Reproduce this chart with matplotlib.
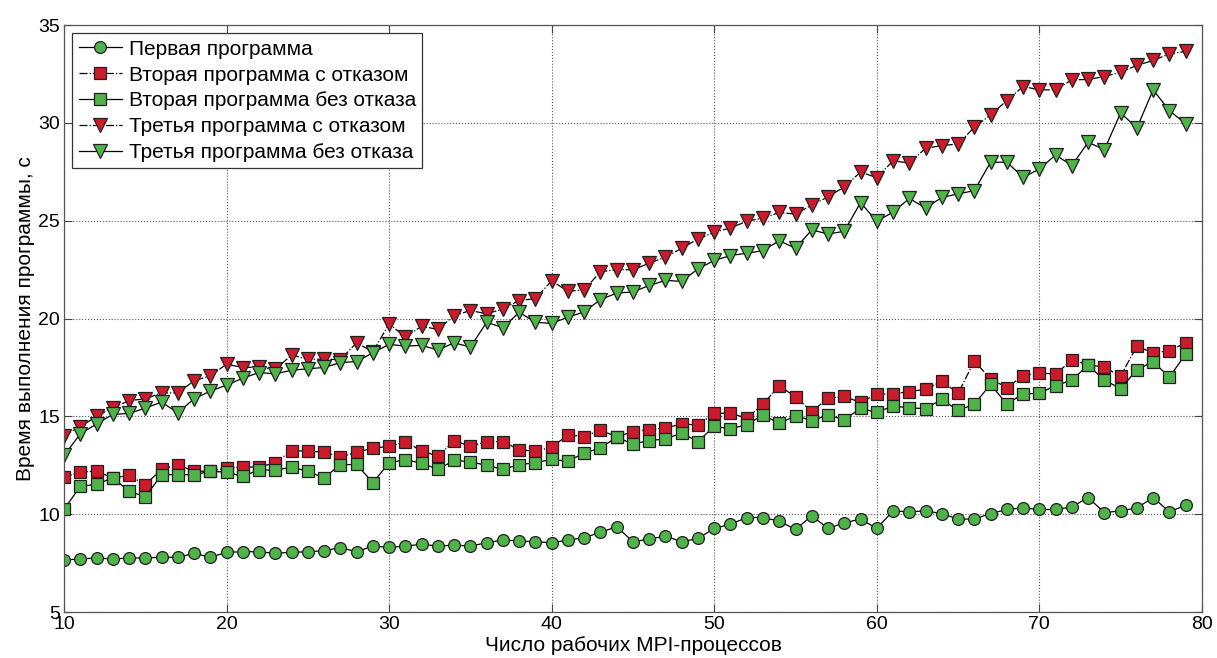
import matplotlib
matplotlib.use("Agg")
import matplotlib.pyplot as plt
import numpy as np

plt.rcParams['font.family'] = ['Liberation Sans', 'DejaVu Sans']

# число рабочих MPI-процессов
procs = list(range(10, 80))

first = [7.66, 7.71, 7.76, 7.71, 7.76, 7.76, 7.80, 7.80, 8.00, 7.80,
         8.05, 8.08, 8.08, 8.00, 8.05, 8.08, 8.13, 8.29, 8.08, 8.37,
         8.30, 8.37, 8.46, 8.37, 8.42, 8.37, 8.54, 8.68, 8.63, 8.59,
         8.54, 8.68, 8.80, 9.07, 9.36, 8.59, 8.73, 8.88, 8.59, 8.76,
         9.27, 9.49, 9.83, 9.83, 9.64, 9.22, 9.92, 9.27, 9.56, 9.75,
         9.27, 10.17, 10.12, 10.17, 10.03, 9.75, 9.75, 10.03, 10.24, 10.32,
         10.24, 10.24, 10.37, 10.85, 10.08, 10.17, 10.32, 10.85, 10.12, 10.46]

second_fail = [11.90, 12.15, 12.20, 11.85, 11.98, 11.51, 12.29, 12.53, 12.19, 12.20,
               12.36, 12.41, 12.41, 12.63, 13.25, 13.22, 13.17, 12.92, 13.17, 13.37,
               13.47, 13.68, 13.25, 12.95, 13.76, 13.47, 13.71, 13.71, 13.29, 13.22,
               13.42, 14.05, 13.97, 14.30, 13.95, 14.22, 14.32, 14.41, 14.61, 14.56,
               15.15, 15.17, 14.90, 15.63, 16.56, 16.00, 15.24, 15.93, 16.02, 15.71,
               16.14, 16.14, 16.27, 16.38, 16.80, 16.18, 17.82, 16.92, 16.47, 17.07,
               17.22, 17.16, 17.88, 17.65, 17.50, 17.07, 18.58, 18.24, 18.36, 18.75]

second_ok = [10.25, 11.42, 11.53, 11.85, 11.19, 10.88, 12.02, 12.02, 12.02, 12.19,
             12.15, 11.93, 12.27, 12.24, 12.41, 12.19, 11.86, 12.53, 12.54, 11.61,
             12.63, 12.78, 12.61, 12.29, 12.75, 12.68, 12.49, 12.29, 12.53, 12.63,
             12.80, 12.71, 13.12, 13.39, 13.93, 13.59, 13.76, 13.85, 14.14, 13.71,
             14.49, 14.36, 14.58, 15.07, 14.64, 15.03, 14.78, 15.07, 14.83, 15.41,
             15.20, 15.53, 15.43, 15.40, 15.87, 15.30, 15.63, 16.63, 15.63, 16.15,
             16.18, 16.57, 16.85, 17.62, 16.85, 16.42, 17.38, 17.80, 17.00, 18.19]

third_fail = [14.02, 14.47, 15.00, 15.45, 15.80, 15.90, 16.20, 16.20, 16.82, 17.07,
              17.67, 17.49, 17.53, 17.40, 18.14, 17.92, 17.92, 17.90, 18.76, 18.30,
              19.73, 19.05, 19.61, 19.44, 20.15, 20.41, 20.24, 20.49, 20.92, 21.02,
              21.93, 21.39, 21.47, 22.39, 22.50, 22.49, 22.83, 23.14, 23.59, 24.07,
              24.41, 24.63, 24.97, 25.14, 25.42, 25.34, 25.80, 26.22, 26.73, 27.49,
              27.20, 28.06, 27.95, 28.70, 28.84, 28.92, 29.78, 30.41, 31.14, 31.86,
              31.69, 31.69, 32.20, 32.22, 32.37, 32.59, 32.94, 33.19, 33.53, 33.65]

third_ok = [13.00, 14.10, 14.61, 15.10, 15.15, 15.42, 15.73, 15.18, 15.90, 16.29,
            16.60, 16.95, 17.24, 17.17, 17.36, 17.43, 17.50, 17.75, 17.80, 18.25,
            18.68, 18.59, 18.63, 18.39, 18.76, 18.54, 19.81, 19.53, 20.32, 19.81,
            19.75, 20.07, 20.34, 20.97, 21.30, 21.36, 21.69, 21.95, 21.90, 22.54,
            22.97, 23.22, 23.34, 23.47, 23.98, 23.59, 24.53, 24.32, 24.46, 25.93,
            24.97, 25.44, 26.14, 25.65, 26.19, 26.37, 26.54, 27.99, 27.99, 27.22,
            27.64, 28.36, 27.82, 29.01, 28.63, 30.51, 29.74, 31.69, 30.63, 29.95]

labels = ['Первая программа',
          'Вторая программа с отказом',
          'Вторая программа без отказа',
          'Третья программа с отказом',
          'Третья программа без отказа']

green = '#4fb34a'
red = '#cc1b2b'

fig = plt.figure(figsize=(12.17, 6.58), dpi=100)
ax = fig.add_axes([0.0526, 0.0699, 0.935, 0.892])

common = dict(color='black', lw=0.9, markeredgecolor='#202020', markeredgewidth=0.9)
ax.plot(procs, first, '-', marker='o', ms=8.5, markerfacecolor=green, label=labels[0], **common)
ax.plot(procs, second_fail, '-.', marker='s', ms=8, markerfacecolor=red, label=labels[1], **common)
ax.plot(procs, second_ok, '-', marker='s', ms=8, markerfacecolor=green, label=labels[2], **common)
ax.plot(procs, third_fail, '-.', marker='v', ms=10, markerfacecolor=red, label=labels[3], **common)
ax.plot(procs, third_ok, '-', marker='v', ms=10, markerfacecolor=green, label=labels[4], **common)

ax.set_xlim(10, 80)
ax.set_ylim(5, 35)
ax.set_xticks(np.arange(10, 81, 10))
ax.set_yticks(np.arange(5, 36, 5))
ax.grid(True, linestyle=':', color='#555555', lw=0.8)
ax.tick_params(direction='in', length=6, top=True, right=True, labelsize=14,
               color='#444444', pad=3)
ax.tick_params(axis='x', pad=3)
for s in ax.spines.values():
    s.set_color('#555555')
    s.set_linewidth(0.9)

ax.set_xlabel('Число рабочих MPI-процессов', fontsize=15, labelpad=2)
ax.set_ylabel('Время выполнения программы, с', fontsize=15, labelpad=2)

leg = ax.legend(loc='upper left', fontsize=15, handlelength=2.1, handletextpad=0.3,
                labelspacing=0.33, borderpad=0.3, borderaxespad=0.4,
                fancybox=False, framealpha=1, edgecolor='#333333')
leg.get_frame().set_linewidth(0.9)

fig.savefig('out.png', dpi=100)
